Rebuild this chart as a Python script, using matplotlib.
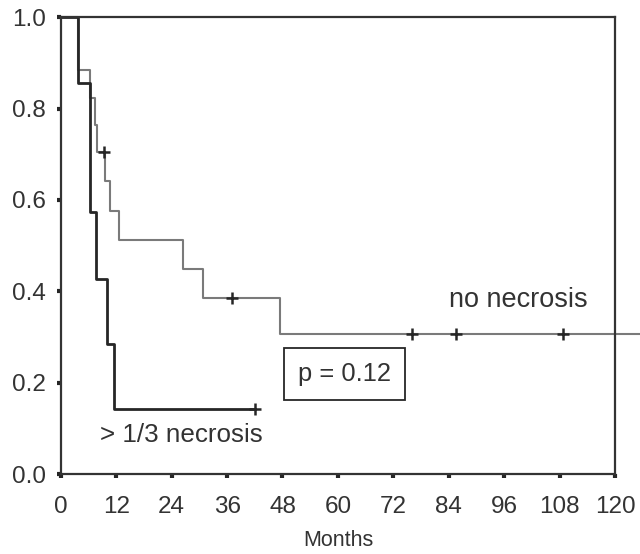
import matplotlib
matplotlib.use('Agg')
import matplotlib.pyplot as plt

# survival curves (months, proportion surviving)
no_nec_t = [0, 3.7, 6.4, 7.4, 7.9, 9.5, 10.7, 12.6, 26.5, 30.8, 47.5, 125.4]
no_nec_s = [1.0, 0.884, 0.824, 0.764, 0.705, 0.641, 0.576, 0.512, 0.449, 0.386, 0.307, 0.307]
no_nec_cens_t = [9.4, 37.1, 76.1, 85.5, 108.7]
no_nec_cens_s = [0.705, 0.386, 0.307, 0.307, 0.307]

nec_t = [0, 3.7, 6.4, 7.7, 10.1, 11.5, 42.0]
nec_s = [1.0, 0.857, 0.573, 0.427, 0.284, 0.142, 0.142]
nec_cens_t = [42.0]
nec_cens_s = [0.142]

xticks = [0, 12, 24, 36, 48, 60, 72, 84, 96, 108, 120]
yticks = [0.0, 0.2, 0.4, 0.6, 0.8, 1.0]

plt.rcParams['font.family'] = 'Liberation Sans'
fig = plt.figure(figsize=(6.4, 5.54), dpi=100)
ax = fig.add_axes([0.095, 0.144, 0.866, 0.825])

grey = '#7a7a7a'
dark = '#262626'
txt = '#333333'
ax.step(no_nec_t, no_nec_s, where='post', color=grey, lw=1.5, clip_on=False)
ax.step(nec_t, nec_s, where='post', color=dark, lw=2)
ax.plot(no_nec_cens_t, no_nec_cens_s, '+', color=dark, ms=9, mew=1.8)
ax.plot(nec_cens_t, nec_cens_s, '+', color=dark, ms=9, mew=1.8)

ax.set_xlim(0, 120)
ax.set_ylim(0, 1)
ax.set_xticks(xticks)
ax.set_yticks(yticks)
ax.set_xticklabels([str(t) for t in xticks])
ax.set_yticklabels(['%.1f' % t for t in yticks])
ax.tick_params(axis='both', direction='out', length=3, width=3, color=dark,
               labelsize=17.5, labelcolor=txt)
ax.tick_params(axis='x', pad=13)
ax.tick_params(axis='y', pad=8)
for s in ax.spines.values():
    s.set_linewidth(1.6)
    s.set_color('#333333')

ax.set_xlabel('Months', fontsize=15.5, color=txt, labelpad=8)

ax.text(99, 0.381, 'no necrosis', fontsize=19.5, color=txt, ha='center', va='center')
ax.text(26, 0.085, '> 1/3 necrosis', fontsize=18.7, color=txt, ha='center', va='center')
ax.text(61.4, 0.22, 'p = 0.12', fontsize=18.4, color=txt, ha='center', va='center',
        bbox=dict(boxstyle='square,pad=0.55', fc='white', ec=dark, lw=1.3))

fig.savefig('out.png', dpi=100)
